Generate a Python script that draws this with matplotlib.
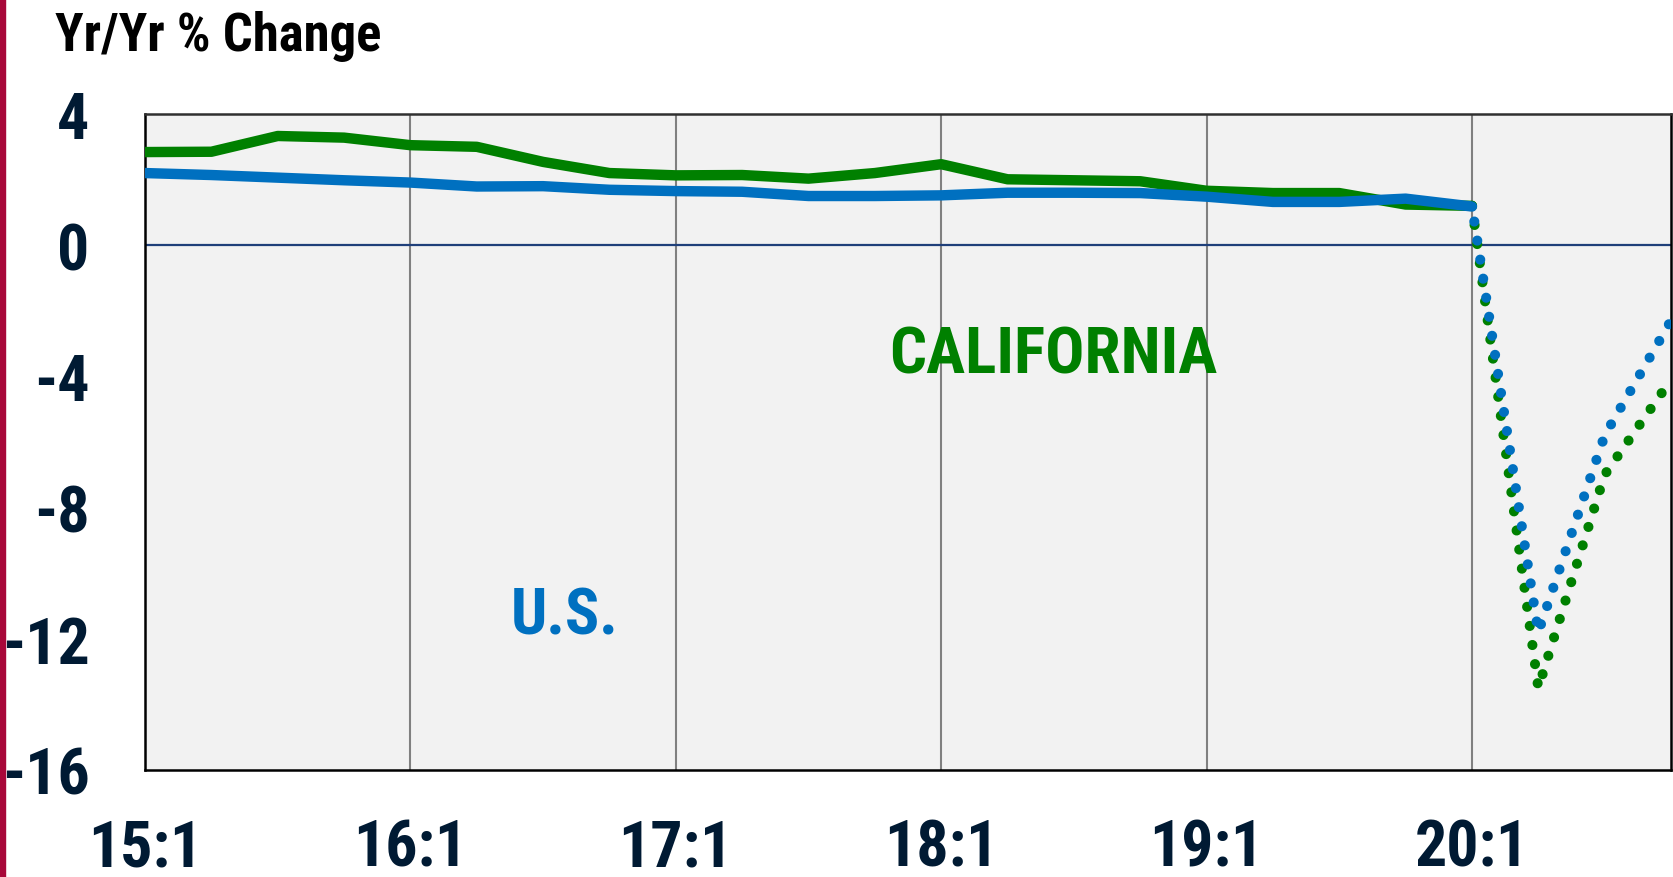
import matplotlib
matplotlib.use("Agg")
import matplotlib.pyplot as plt
from matplotlib import font_manager
from matplotlib.patches import Rectangle

# quarterly data, 15:1 .. 20:1 actual, 20:1 .. 20:4 estimate
ca_actual = [2.84, 2.85, 3.33, 3.28, 3.05, 3.00, 2.54, 2.20, 2.13, 2.14, 2.03,
             2.20, 2.47, 2.01, 1.98, 1.95, 1.66, 1.59, 1.59, 1.24, 1.20]
us_actual = [2.20, 2.14, 2.06, 1.98, 1.91, 1.79, 1.80, 1.69, 1.65, 1.63, 1.50,
             1.50, 1.52, 1.60, 1.60, 1.59, 1.48, 1.32, 1.32, 1.42, 1.18]
ca_est = [1.20, -13.5, -7.0, -4.1]
us_est = [1.18, -11.8, -5.8, -2.3]
year_labels = ["15:1", "16:1", "17:1", "18:1", "19:1", "20:1"]

green = "#008000"
blue = "#0070C0"
navy = "#001A33"

# pick an Arial Narrow-like bold face
bold_faces = {f.name for f in font_manager.fontManager.ttflist
              if isinstance(f.weight, int) and f.weight >= 700 or f.weight == "bold"}
narrow = "DejaVu Sans"
for cand in ["Liberation Sans Narrow", "Arial Narrow", "Archivo Narrow",
             "Roboto Condensed", "PT Sans Narrow", "Pragati Narrow",
             "IBM Plex Sans Condensed", "Fira Sans Condensed",
             "Open Sans Condensed", "Sofia Sans Condensed", "Saira SemiCondensed"]:
    if cand in bold_faces:
        narrow = cand
        break

fig = plt.figure(figsize=(16.73, 8.78), dpi=100)
ax = fig.add_axes([0.0867, 0.1219, 0.9121, 0.7471])
ax.set_facecolor("#F2F2F2")

xa = list(range(len(ca_actual)))
xe = list(range(len(ca_actual) - 1, len(ca_actual) - 1 + len(ca_est)))

ax.axhline(0, color="#1F3F7A", lw=1.6, zorder=2)
ax.plot(xa, ca_actual, color=green, lw=7.5, solid_capstyle="round", zorder=3)
ax.plot(xa, us_actual, color=blue, lw=7.5, solid_capstyle="round", zorder=4)
ax.plot(xe, ca_est, color=green, lw=7.3, linestyle=(0, (0.001, 1.9)),
        dash_capstyle="round", zorder=3)
ax.plot(xe, us_est, color=blue, lw=7.3, linestyle=(0.4, (0.001, 1.9)),
        dash_capstyle="round", zorder=4)

ax.set_xlim(0, 23)
ax.set_ylim(-16, 4)
ax.set_xticks([4 * i for i in range(len(year_labels))])
ax.set_xticklabels(year_labels)
ax.set_yticks([-16, -12, -8, -4, 0, 4])
ax.set_yticklabels(["-16", "-12", "-8", "-4", "0", "4"])
for xv in range(4, 24, 4):
    ax.axvline(xv, color="#808080", lw=1.5, zorder=1)

ax.tick_params(length=0, labelsize=46, labelcolor=navy)
ax.tick_params(axis="y", pad=40)
ax.tick_params(axis="x", pad=34)
for lab in ax.get_xticklabels() + ax.get_yticklabels():
    lab.set_fontfamily(narrow)
    lab.set_fontweight("bold")

for s in ax.spines.values():
    s.set_color("black")
    s.set_linewidth(1.8)
ax.spines["top"].set_color("#303030")

ax.text(0.4875, 0.632, "CALIFORNIA", transform=ax.transAxes, color=green,
        fontsize=47, fontweight="bold", family=narrow,
        ha="left", va="center")
ax.text(0.2395, 0.235, "U.S.", transform=ax.transAxes, color=blue,
        fontsize=46, fontweight="bold", family=narrow,
        ha="left", va="center")

fig.text(0.033, 0.958, "Yr/Yr % Change", fontsize=38, fontweight="bold",
         family=narrow, color="black", ha="left", va="center")

fig.patches.append(Rectangle((0, 0), 5 / 1673, 1, transform=fig.transFigure,
                             color="#A8083A", zorder=0))

fig.savefig("out.png", dpi=100)
